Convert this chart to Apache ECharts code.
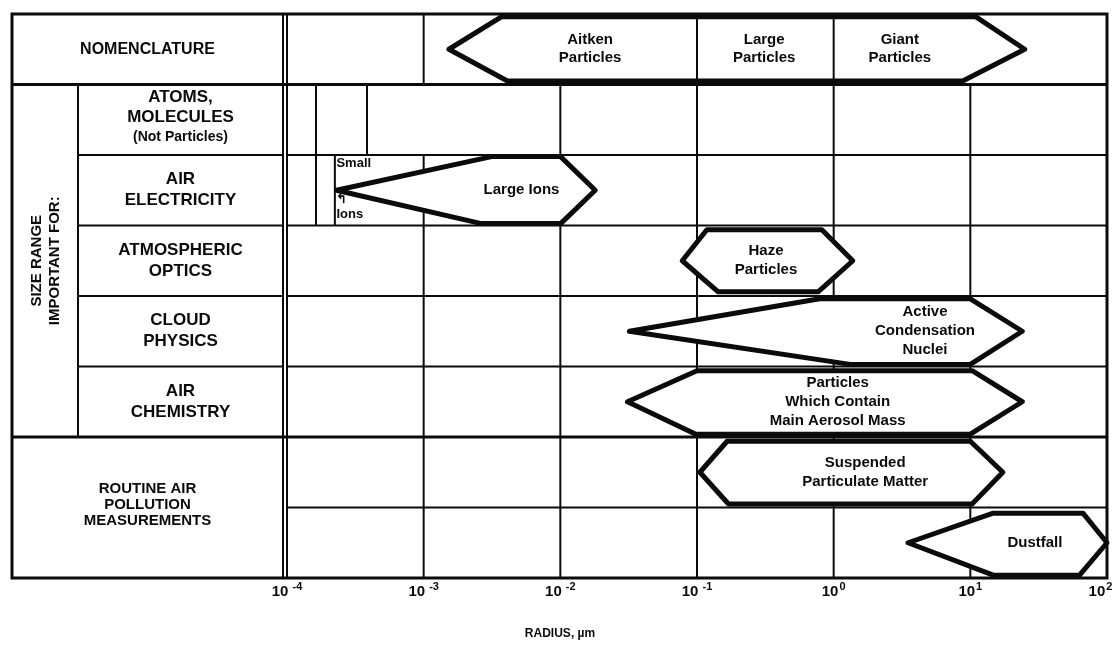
<!DOCTYPE html>
<html>
<head>
<meta charset="utf-8">
<title>Atmospheric particle size ranges</title>
<script src="https://cdn.jsdelivr.net/npm/echarts@6/dist/echarts.min.js"></script>
<style>
  html, body { margin: 0; padding: 0; background: #ffffff; }
  #chart { width: 1113px; height: 652px; }
</style>
</head>
<body>
<div id="chart"></div>
<script>
// Radius scale in micrometres (log axis)
const radiusMin = 1e-4;
const radiusMax = 100;

// Row headings, top to bottom
const nomenclatureHeading = 'NOMENCLATURE';
const groupHeading = 'SIZE RANGE\nIMPORTANT FOR:';
const rowHeadings = ['ATOMS,\nMOLECULES', 'AIR\nELECTRICITY', 'ATMOSPHERIC\nOPTICS', 'CLOUD\nPHYSICS', 'AIR\nCHEMISTRY'];
const atomsNote = '(Not Particles)';
const pollutionHeading = 'ROUTINE AIR\nPOLLUTION\nMEASUREMENTS';

// Nomenclature classes (µm)
const classNames = ['Aitken\nParticles', 'Large\nParticles', 'Giant\nParticles'];
const classCenters = [0.0165, 0.31, 3.05];
const classBounds = [0.1, 1];

// Size bands: row index and radius at each corner of the band (µm)
const bandRows     = [0, 2, 3, 4, 5, 6, 7];
const bandTipLeft  = [1.53e-3, 2.3e-4, 0.078, 0.032, 0.031, 0.105, 3.5];
const bandTopLeft  = [3.7e-3, 3.2e-3, 0.118, 0.79, 0.100, 0.166, 14.7];
const bandBotLeft  = [4.1e-3, 2.6e-3, 0.143, 1.32, 0.098, 0.170, 14.7];
const bandTopRight = [11, 0.0100, 0.82, 10, 10.3, 10.0, 66.7];
const bandBotRight = [8.8, 0.0101, 0.77, 10, 10.0, 10.3, 63];
const bandTipRight = [25, 0.018, 1.38, 24, 24, 17.3, 100];
const bandNames    = ['', 'Large Ions', 'Haze\nParticles', 'Active\nCondensation\nNuclei',
                      'Particles\nWhich Contain\nMain Aerosol Mass', 'Suspended\nParticulate Matter', 'Dustfall'];
const bandLabelAt  = [0.0165, 5.2e-3, 0.32, 4.66, 1.07, 1.7, 29.7];

// Cell borders inside each row (µm)
const rowDividers = [
  [1e-3],
  [1.63e-4, 3.85e-4, 1e-2, 0.1, 1, 10],
  [1.63e-4, 2.24e-4, 1e-3, 1e-2, 0.1, 1, 10],
  [1e-3, 1e-2, 0.1, 1, 10],
  [1e-3, 1e-2, 0.1, 1, 10],
  [1e-3, 1e-2, 0.1, 1, 10],
  [1e-3, 1e-2, 0.1, 1, 10],
  [1e-3, 1e-2, 0.1, 1, 10]
];

// Small-ion note in the air electricity row
const smallIonText = ['Small', '\u21B0', 'Ions'];
const smallIonAt = 2.3e-4;

// ---------------------------------------------------------------- layout
const W = 1113, H = 652;
const frame = { left: 12, inner: 78, headRight: 283, top: 14, bottom: 578, right: 1107 };
const gridLeft = 287;
const rowCount = 8;
const rowY = k => frame.top + k * (frame.bottom - frame.top) / rowCount;
const ink = '#0b0b0b';
const family = '"Liberation Sans", Arial, Helvetica, sans-serif';

// vertical inset of each band inside its row (fraction of row height)
const bandInsetTop    = [0.04, 0.02, 0.06, 0.04, 0.06, 0.06, 0.08];
const bandInsetBottom = [0.05, 0.03, 0.06, 0.03, 0.04, 0.05, 0.04];
const smallIonRowPos  = [0.12, 0.63, 0.84];

function hLine(x1, x2, y, w) {
  return { type: 'line', z: 50, silent: true, shape: { x1: x1, y1: y, x2: x2, y2: y }, style: { stroke: ink, lineWidth: w } };
}
function vLine(x, y1, y2, w) {
  return { type: 'line', z: 50, silent: true, shape: { x1: x, y1: y1, x2: x, y2: y2 }, style: { stroke: ink, lineWidth: w } };
}
function headText(x, y, text, size, lh, rotation) {
  return {
    type: 'text', z: 55, silent: true, x: x, y: y, rotation: rotation || 0,
    style: {
      text: text, font: 'bold ' + size + 'px ' + family, fill: ink,
      align: 'center', verticalAlign: 'middle', textAlign: 'center', textVerticalAlign: 'middle',
      lineHeight: lh
    }
  };
}

const headCenterX = (frame.inner + frame.headRight) / 2;
const graphic = [
  { type: 'rect', z: 60, silent: true,
    shape: { x: frame.left, y: frame.top, width: frame.right - frame.left, height: frame.bottom - frame.top },
    style: { fill: 'transparent', stroke: ink, lineWidth: 3 } },
  vLine(frame.headRight, frame.top, frame.bottom, 2),
  vLine(gridLeft, frame.top, frame.bottom, 2),
  hLine(frame.left, gridLeft, rowY(1), 3),
  hLine(frame.left, gridLeft, rowY(6), 3),
  hLine(frame.inner, frame.headRight, rowY(2), 2),
  hLine(frame.inner, frame.headRight, rowY(3), 2),
  hLine(frame.inner, frame.headRight, rowY(4), 2),
  hLine(frame.inner, frame.headRight, rowY(5), 2),
  vLine(frame.inner, rowY(1), rowY(6), 2),
  headText((frame.left + frame.headRight) / 2, rowY(0.5), nomenclatureHeading, 16, 20),
  headText((frame.left + frame.inner) / 2 + 1, (rowY(1) + rowY(6)) / 2, groupHeading, 15, 18, Math.PI / 2),
  headText(headCenterX, rowY(1.5) - 12, rowHeadings[0], 17, 20),
  headText(headCenterX, rowY(1.5) + 17, atomsNote, 14, 18),
  headText(headCenterX, rowY(2.5), rowHeadings[1], 17, 21),
  headText(headCenterX, rowY(3.5), rowHeadings[2], 17, 21),
  headText(headCenterX, rowY(4.5), rowHeadings[3], 17, 21),
  headText(headCenterX, rowY(5.5), rowHeadings[4], 17, 21),
  headText((frame.left + frame.headRight) / 2, (rowY(6) + rowY(8)) / 2 - 3, pollutionHeading, 15, 16)
];

// ---------------------------------------------------------------- series data
const cellData = [];
rowDividers.forEach(function (xs, row) { xs.forEach(function (x) { cellData.push([x, row]); }); });
const rowLineData = [];
for (let k = 1; k < rowCount; k++) rowLineData.push([radiusMin, k]);

const bandData = bandRows.map(function (row, i) {
  return [bandTipLeft[i], bandTopLeft[i], bandBotLeft[i], bandTopRight[i], bandBotRight[i], bandTipRight[i], row, bandLabelAt[i]];
});
const classData = classCenters.map(function (c) { return [c, 0.5]; });
const classBoundData = classBounds.map(function (b) { return [b, 0]; });
const smallIonData = smallIonText.map(function (t, i) { return [smallIonAt, 2 + smallIonRowPos[i]]; });

const labelFont = 'bold 15px ' + family;

const option = {
  animation: false,
  backgroundColor: '#ffffff',
  graphic: graphic,
  grid: { left: gridLeft, right: W - frame.right, top: frame.top, bottom: H - frame.bottom, containLabel: false, outerBoundsMode: 'none' },
  xAxis: {
    type: 'log', logBase: 10, min: radiusMin, max: radiusMax, splitNumber: 6,
    axisLine: { show: false }, axisTick: { show: false }, splitLine: { show: false },
    axisLabel: {
      margin: 3, showMinLabel: true, showMaxLabel: true,
      formatter: function (v) {
        const e = Math.round(Math.log10(v));
        if (v >= radiusMax) return '{b|10}{m|' + e + '}';
        return '{b|10}{s|' + (e < 0 ? ' ' + e : String(e)) + '}';
      },
      rich: {
        b: { fontFamily: family, fontWeight: 'bold', fontSize: 15, color: ink, lineHeight: 18, verticalAlign: 'bottom' },
        s: { fontFamily: family, fontWeight: 'bold', fontSize: 11, color: ink, lineHeight: 18, verticalAlign: 'top', padding: [0, 0, 0, 1] },
        m: { fontFamily: family, fontWeight: 'bold', fontSize: 11, color: ink, lineHeight: 18, verticalAlign: 'top', padding: [0, 13, 0, 1] }
      }
    },
    name: 'RADIUS, \u00B5m', nameLocation: 'middle', nameGap: 50,
    nameTextStyle: { fontFamily: family, fontWeight: 'bold', fontSize: 12, color: ink, padding: [0, 274, 0, 0] }
  },
  yAxis: { type: 'value', min: 0, max: rowCount, inverse: true, show: false },
  series: [
    {
      name: 'cells', type: 'custom', coordinateSystem: 'cartesian2d', silent: true, z: 1,
      data: cellData, encode: { x: 0, y: 1 },
      renderItem: function (params, api) {
        const x = api.value(0), r = api.value(1);
        const a = api.coord([x, r]), b = api.coord([x, r + 1]);
        return { type: 'line', shape: { x1: a[0], y1: a[1], x2: b[0], y2: b[1] }, style: { stroke: ink, lineWidth: 2 } };
      }
    },
    {
      name: 'rows', type: 'custom', coordinateSystem: 'cartesian2d', silent: true, z: 1,
      data: rowLineData, encode: { x: 0, y: 1 },
      renderItem: function (params, api) {
        const k = api.value(1);
        const a = api.coord([radiusMin, k]), b = api.coord([radiusMax, k]);
        return { type: 'line', shape: { x1: a[0], y1: a[1], x2: b[0], y2: b[1] },
                 style: { stroke: ink, lineWidth: (k === 1 || k === 6) ? 3 : 2 } };
      }
    },
    {
      name: 'bands', type: 'custom', coordinateSystem: 'cartesian2d', silent: true, z: 2,
      data: bandData, encode: { x: [0, 1, 2, 3, 4, 5], y: 6 },
      renderItem: function (params, api) {
        const i = params.dataIndex;
        const row = api.value(6);
        const yt = row + bandInsetTop[i], yb = row + 1 - bandInsetBottom[i], ym = row + 0.5;
        const pts = [
          api.coord([api.value(0), ym]),
          api.coord([api.value(1), yt]),
          api.coord([api.value(3), yt]),
          api.coord([api.value(5), ym]),
          api.coord([api.value(4), yb]),
          api.coord([api.value(2), yb])
        ];
        const children = [{
          type: 'polygon', shape: { points: pts },
          style: { fill: '#ffffff', stroke: ink, lineWidth: 5, lineJoin: 'round' }
        }];
        if (bandNames[i]) {
          const c = api.coord([api.value(7), ym]);
          children.push({
            type: 'text', x: c[0], y: c[1],
            style: { text: bandNames[i], font: labelFont, fill: ink, align: 'center', verticalAlign: 'middle', lineHeight: 19 }
          });
        }
        return { type: 'group', children: children };
      }
    },
    {
      name: 'class bounds', type: 'custom', coordinateSystem: 'cartesian2d', silent: true, z: 3,
      data: classBoundData, encode: { x: 0, y: 1 },
      renderItem: function (params, api) {
        const a = api.coord([api.value(0), 0]), b = api.coord([api.value(0), 1]);
        return { type: 'line', shape: { x1: a[0], y1: a[1], x2: b[0], y2: b[1] }, style: { stroke: ink, lineWidth: 2 } };
      }
    },
    {
      name: 'classes', type: 'custom', coordinateSystem: 'cartesian2d', silent: true, z: 4,
      data: classData, encode: { x: 0, y: 1 },
      renderItem: function (params, api) {
        const c = api.coord([api.value(0), api.value(1)]);
        return { type: 'text', x: c[0], y: c[1],
                 style: { text: classNames[params.dataIndex], font: labelFont, fill: ink, align: 'center', verticalAlign: 'middle', lineHeight: 18 } };
      }
    },
    {
      name: 'small ions', type: 'custom', coordinateSystem: 'cartesian2d', silent: true, z: 4,
      data: smallIonData, encode: { x: 0, y: 1 },
      renderItem: function (params, api) {
        const c = api.coord([api.value(0), api.value(1)]);
        return { type: 'text', x: c[0], y: c[1],
                 style: { text: smallIonText[params.dataIndex], font: 'bold 13px ' + family, fill: ink, align: 'left', verticalAlign: 'middle' } };
      }
    }
  ]
};

const chart = echarts.init(document.getElementById('chart'), null, { renderer: 'canvas' });
chart.setOption(option);
</script>
</body>
</html>
